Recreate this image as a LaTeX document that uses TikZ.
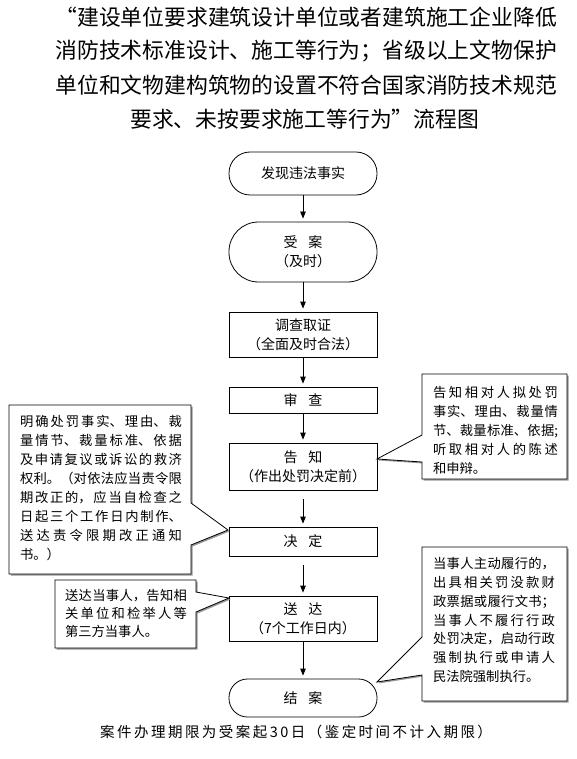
\documentclass[tikz,border=0pt]{standalone}
\usepackage{fontspec}
\setmainfont{Noto Sans CJK SC}
\newfontfamily\capfont[LetterSpace=17]{Noto Sans CJK SC}
\usetikzlibrary{arrows.meta}
\XeTeXlinebreaklocale "zh"
\XeTeXlinebreakskip=0pt plus 20pt
\begin{document}
\begin{tikzpicture}[x=1pt,y=-1pt,
  box/.style={draw, line width=0.8pt, minimum width=148pt, inner sep=0pt, align=center, font=\fontsize{14}{19}\selectfont},
  arr/.style={-{Triangle[length=7pt,width=5.5pt]}, line width=0.8pt, shorten >=3pt},
  tline/.style={inner sep=0pt, font=\fontsize{21.8}{26}\selectfont},
  ctext/.style={inner sep=0pt, align=justify, font=\fontsize{13.3}{19}\selectfont},
  cshape/.style={draw, fill=white, line width=0.8pt},
  cshadow/.style={fill=black!40}]
\fill[white] (0,0) rectangle (577,759);
\useasboundingbox (0,0) rectangle (577,759);
% title
\node[tline, anchor=east] (t1) at (557,17) {“建设单位要求建筑设计单位或者建筑施工企业降低};
\node[tline, anchor=east] (t2) at (557,51) {消防技术标准设计、施工等行为；省级以上文物保护};
\node[tline, anchor=east] (t3) at (557,85) {单位和文物建构筑物的设置不符合国家消防技术规范};
\node[tline, anchor=west] (t4) at (130,119) {要求、未按要求施工等行为”流程图};
% main flow
\node[box, minimum height=43pt, rounded corners=21pt] (n1) at (303,173.5) {发现违法事实};
\node[box, minimum height=60pt, rounded corners=29.5pt] (n2) at (303,252) {受\hspace{11pt}案\\（及时）};
\node[box, minimum height=45pt] (n3) at (303,334.5) {调查取证\\（全面及时合法）};
\node[box, minimum height=26pt] (n4) at (303,400) {审\hspace{11pt}查};
\node[box, minimum height=47pt] (n5) at (303,466.5) {告\hspace{11pt}知\\（作出处罚决定前）};
\node[box, minimum height=29pt] (n6) at (303,541.5) {决\hspace{11pt}定};
\node[box, minimum height=45pt] (n7) at (303,618.5) {送\hspace{11pt}达\\（7个工作日内）};
\node[box, minimum height=38pt, rounded corners=18.5pt] (n8) at (303,698) {结\hspace{11pt}案};
\draw[arr] (n1.south) -- (n2.north);
\draw[arr] (n2.south) -- (n3.north);
\draw[arr] (n3.south) -- (n4.north);
\draw[arr] (n4.south) -- (n5.north);
\draw[arr, shorten <=9pt] (n5.south) -- (n6.north);
\draw[arr, shorten <=9pt] (n6.south) -- (n7.north);
\draw[arr] (n7.south) -- (n8.north);
% callouts
\def\LONE{(9,405) -- (191,405) -- (191,503) -- (228,530) -- (191,545) -- (191,574) -- (9,574) -- cycle}
\def\RONE{(422,374) -- (567,374) -- (567,479) -- (422,479) -- (422,462) -- (377,459) -- (422,435) -- cycle}
\def\LTWO{(55,580) -- (196,580) -- (196,592) -- (229,598) -- (196,612) -- (196,648) -- (55,648) -- cycle}
\def\RTWO{(422,547) -- (567,547) -- (567,701) -- (422,701) -- (422,675) -- (377,682) -- (422,637) -- cycle}
\fill[cshadow, xshift=1.5pt, yshift=-1.5pt] \LONE;
\draw[cshape] \LONE;
\fill[cshadow, xshift=1.5pt, yshift=-1.5pt] \RONE;
\draw[cshape] \RONE;
\fill[cshadow, xshift=1.5pt, yshift=-1.5pt] \LTWO;
\draw[cshape] \LTWO;
\fill[cshadow, xshift=1.5pt, yshift=-1.5pt] \RTWO;
\draw[cshape] \RTWO;
\node[ctext, text width=162pt] (c1) at (101,488.4) {明确处罚事实、理由、裁\linebreak 量情节、裁量标准、依据\linebreak 及申请复议或诉讼的救济\linebreak 权利。（对依法应当责令限\linebreak 期改正的，应当自检查之\linebreak 日起三个工作日内制作、\linebreak 送达责令限期改正通知\linebreak 书。）};
\node[ctext, text width=125pt] (c2) at (495.5,430) {告知相对人拟处罚\linebreak 事实、理由、裁量情\linebreak 节、裁量标准、依据;\linebreak 听取相对人的陈述\linebreak 和申辩。};
\node[ctext, text width=122pt, font=\fontsize{13.3}{18.3}\selectfont] (c3) at (126,613.3) {送达当事人，告知相\linebreak 关单位和检举人等\linebreak 第三方当事人。};
\node[ctext, text width=122pt, font=\fontsize{13.3}{18.9}\selectfont] (c4) at (494,620) {当事人主动履行的，\linebreak 出具相关罚没款财\linebreak 政票据或履行文书；\linebreak 当事人不履行行政\linebreak 处罚决定，启动行政\linebreak 强制执行或申请人\linebreak 民法院强制执行。};
% caption
\node[inner sep=0pt, anchor=west, font=\capfont\fontsize{14.5}{18}\selectfont] (cap) at (100,732) {案件办理期限为受案起30日（鉴定时间不计入期限）};
\end{tikzpicture}
\end{document}
